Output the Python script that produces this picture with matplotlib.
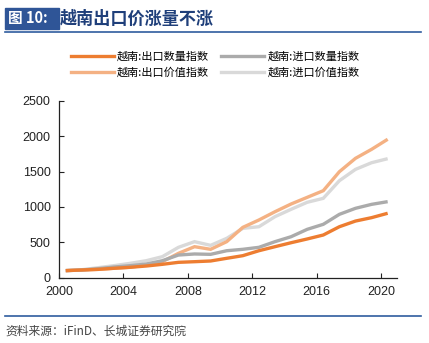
import matplotlib
matplotlib.use("Agg")
import matplotlib.pyplot as plt
from matplotlib.patches import Rectangle
from matplotlib.lines import Line2D
import numpy as np

plt.rcParams['font.family'] = ['Liberation Sans', 'Noto Sans CJK SC', 'DejaVu Sans']

years = list(range(2000, 2021))
export_qty = [100, 109, 118, 133, 147, 165, 189, 217, 226, 236, 274, 311, 381, 438, 494, 547, 603, 720, 800, 848, 910]
import_qty = [100, 109, 127, 151, 170, 193, 240, 320, 335, 330, 381, 401, 429, 509, 579, 683, 754, 895, 980, 1036, 1074]
export_val = [100, 108, 117, 133, 147, 179, 226, 344, 438, 401, 509, 711, 815, 932, 1041, 1135, 1229, 1497, 1686, 1813, 1955]
import_val = [100, 113, 141, 170, 203, 240, 297, 429, 509, 457, 556, 697, 720, 862, 966, 1065, 1121, 1370, 1530, 1624, 1681]

labels = ['越南:出口数量指数', '越南:进口数量指数', '越南:出口价值指数', '越南:进口价值指数']
colors = ['#ED7D31', '#ABABAB', '#F4B183', '#D9D9D9']
xticks = [2000, 2004, 2008, 2012, 2016, 2020]
yticks = [0, 500, 1000, 1500, 2000, 2500]

W, H = 429, 343
fig = plt.figure(figsize=(W / 100, H / 100), dpi=100)

def fx(px):
    return px / W

def fy(py):
    return 1 - py / H

ax = fig.add_axes([fx(59), fy(277.7), fx(397) - fx(59), fy(100.7) - fy(277.7)])
x = np.array(years) + 0.42
series = [export_qty, import_qty, export_val, import_val]
order = [3, 2, 1, 0]
for i in order:
    ax.plot(x, series[i], color=colors[i], lw=2.4, solid_capstyle='butt', solid_joinstyle='miter')

ax.set_xlim(2000, 2021)
ax.set_ylim(0, 2500)
ax.set_xticks(xticks)
ax.set_yticks(yticks)
ax.tick_params(direction='in', length=3.5, width=0.8, labelsize=9, colors='#222222')
ax.tick_params(axis='x', pad=6)
ax.tick_params(axis='y', pad=6)
for s in ['top', 'right']:
    ax.spines[s].set_visible(False)
for s in ['left', 'bottom']:
    ax.spines[s].set_color('#222222')
    ax.spines[s].set_linewidth(0.9)

handles = [Line2D([0], [0], color=c, lw=2.4) for c in colors]
leg_order = [0, 2, 1, 3]
fig.legend([handles[i] for i in leg_order], [labels[i] for i in leg_order], ncol=2,
           loc='center', bbox_to_anchor=(fx(215), fy(65)),
           frameon=False, handlelength=3.9, handletextpad=0.25,
           columnspacing=1.1, labelspacing=0.5,
           prop={'family': ['Noto Sans CJK SC'], 'size': 8})

# Title box
fig.patches.append(Rectangle((fx(5), fy(29)), fx(59) - fx(5), fy(8) - fy(29),
                             transform=fig.transFigure, color='#2F5597', zorder=1))
fig.text(fx(8), fy(18.5), '图 10:', color='white', fontsize=10.5, fontweight='bold',
         va='center', ha='left', family=['Noto Sans CJK SC'])
fig.text(fx(60), fy(18.5), '越南出口价涨量不涨', color='#1F3F7A', fontsize=12.3,
         fontweight='bold', va='center', ha='left', family=['Noto Sans CJK SC'])
fig.add_artist(Line2D([fx(5), fx(421)], [fy(32), fy(32)], color='#2F5C9E', lw=1.2,
                      transform=fig.transFigure))
fig.add_artist(Line2D([fx(5), fx(421)], [fy(316), fy(316)], color='#2F5C9E', lw=1.2,
                      transform=fig.transFigure))
fig.text(fx(5), fy(331), '资料来源：iFinD、长城证券研究院', color='#444444', fontsize=8.5,
         style='italic', va='center', ha='left', family=['Noto Sans CJK SC', 'DejaVu Sans'])

fig.savefig('out.png', dpi=100)
